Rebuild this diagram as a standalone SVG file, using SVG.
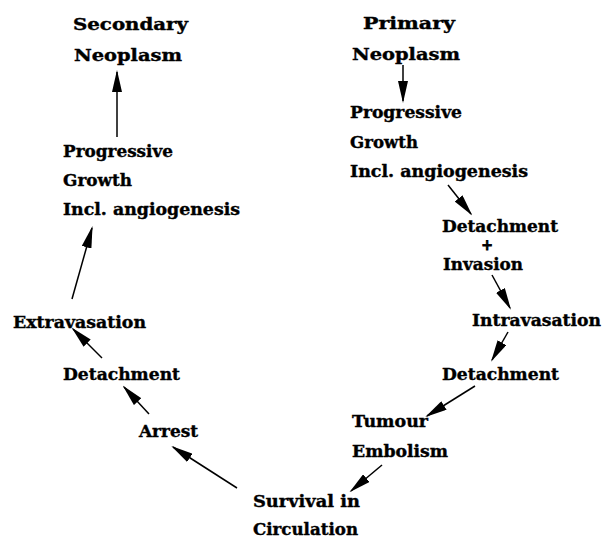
<svg xmlns="http://www.w3.org/2000/svg" width="603" height="538" viewBox="0 0 603 538">
<style>
text{font-family:"DejaVu Serif","Liberation Serif",serif;font-weight:bold;font-size:17px;fill:#000;stroke:#000;stroke-width:0.4}
text.plus{font-size:14px;stroke-width:0.8}
.c line{stroke:#000;stroke-width:1.5;fill:none}
</style>
<defs>
<marker id="ah" viewBox="0 0 22 10" markerWidth="22" markerHeight="10" refX="20" refY="5" orient="auto" markerUnits="userSpaceOnUse">
<path d="M0,0 L22,5 L0,10 Z" fill="#000"/>
</marker>
</defs>
<rect width="603" height="538" fill="#fff"/>
<g id="secondary"><text x="73" y="30" textLength="115" lengthAdjust="spacingAndGlyphs">Secondary</text><text x="74" y="61" textLength="108" lengthAdjust="spacingAndGlyphs">Neoplasm</text></g>
<g id="primary"><text x="363" y="29" textLength="92" lengthAdjust="spacingAndGlyphs">Primary</text><text x="352" y="60" textLength="108" lengthAdjust="spacingAndGlyphs">Neoplasm</text></g>
<g id="growth-left"><text x="63" y="157" textLength="110" lengthAdjust="spacingAndGlyphs">Progressive</text><text x="63" y="186" textLength="69" lengthAdjust="spacingAndGlyphs">Growth</text><text x="63" y="215" textLength="177" lengthAdjust="spacingAndGlyphs">Incl. angiogenesis</text></g>
<g id="growth-right"><text x="350" y="118" textLength="112" lengthAdjust="spacingAndGlyphs">Progressive</text><text x="350" y="148" textLength="68" lengthAdjust="spacingAndGlyphs">Growth</text><text x="350" y="177" textLength="178" lengthAdjust="spacingAndGlyphs">Incl. angiogenesis</text></g>
<g id="detach-invasion"><text x="442" y="232" textLength="116" lengthAdjust="spacingAndGlyphs">Detachment</text><text class="plus" x="487" y="250" text-anchor="middle">+</text><text x="443" y="270" textLength="80" lengthAdjust="spacingAndGlyphs">Invasion</text></g>
<g id="intravasation"><text x="472" y="326" textLength="129" lengthAdjust="spacingAndGlyphs">Intravasation</text></g>
<g id="detach-right"><text x="442" y="380" textLength="117" lengthAdjust="spacingAndGlyphs">Detachment</text></g>
<g id="embolism"><text x="352" y="427" textLength="76" lengthAdjust="spacingAndGlyphs">Tumour</text><text x="352" y="457" textLength="96" lengthAdjust="spacingAndGlyphs">Embolism</text></g>
<g id="survival"><text x="253" y="507" textLength="107" lengthAdjust="spacingAndGlyphs">Survival in</text><text x="253" y="535" textLength="105" lengthAdjust="spacingAndGlyphs">Circulation</text></g>
<g id="arrest"><text x="139" y="437" textLength="59" lengthAdjust="spacingAndGlyphs">Arrest</text></g>
<g id="detach-left"><text x="63" y="380" textLength="117" lengthAdjust="spacingAndGlyphs">Detachment</text></g>
<g id="extravasation"><text x="13" y="328" textLength="133" lengthAdjust="spacingAndGlyphs">Extravasation</text></g>
<g id="connectors" class="c">
<line x1="403" y1="65" x2="403" y2="101" marker-end="url(#ah)"/>
<line x1="448" y1="185" x2="471" y2="214" marker-end="url(#ah)"/>
<line x1="492" y1="275" x2="510" y2="308" marker-end="url(#ah)"/>
<line x1="508" y1="332" x2="492" y2="360" marker-end="url(#ah)"/>
<line x1="475" y1="386" x2="427" y2="416" marker-end="url(#ah)"/>
<line x1="382" y1="465" x2="351" y2="491" marker-end="url(#ah)"/>
<line x1="237" y1="488" x2="173" y2="447" marker-end="url(#ah)"/>
<line x1="149" y1="414" x2="124" y2="387" marker-end="url(#ah)"/>
<line x1="102" y1="358" x2="73" y2="329" marker-end="url(#ah)"/>
<line x1="72" y1="299" x2="92" y2="228" marker-end="url(#ah)"/>
<line x1="117" y1="137" x2="117" y2="72" marker-end="url(#ah)"/>
</g>
</svg>
